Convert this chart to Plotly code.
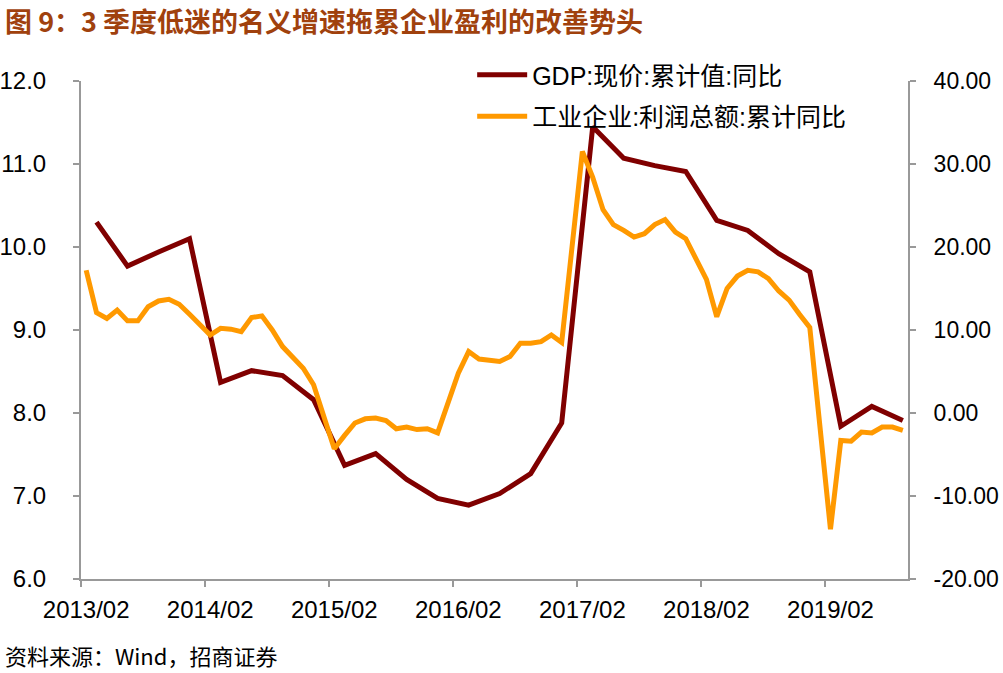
import plotly.graph_objects as go

# ---- data ----
start_year, start_month, n_months = 2013, 2, 80
months = []
y, m = start_year, start_month
for _ in range(n_months):
    months.append(f"{y}/{m:02d}")
    m += 1
    if m > 12:
        m = 1
        y += 1

gdp_dates = ["2013/03", "2013/06", "2013/09", "2013/12",
             "2014/03", "2014/06", "2014/09", "2014/12",
             "2015/03", "2015/06", "2015/09", "2015/12",
             "2016/03", "2016/06", "2016/09", "2016/12",
             "2017/03", "2017/06", "2017/09", "2017/12",
             "2018/03", "2018/06", "2018/09", "2018/12",
             "2019/03", "2019/06", "2019/09"]
gdp_values = [10.30, 9.77, 9.94, 10.10,
              8.37, 8.51, 8.45, 8.16,
              7.37, 7.51, 7.20, 6.97,
              6.89, 7.03, 7.27, 7.88,
              11.45, 11.07, 10.98, 10.91,
              10.32, 10.20, 9.92, 9.70,
              7.84, 8.08, 7.91]

profit_dates = ["2013/02", "2013/03", "2013/04", "2013/05", "2013/06", "2013/07", "2013/08", "2013/09", "2013/10", "2013/11", "2013/12",
                "2014/02", "2014/03", "2014/04", "2014/05", "2014/06", "2014/07", "2014/08", "2014/09", "2014/10", "2014/11", "2014/12",
                "2015/02", "2015/03", "2015/04", "2015/05", "2015/06", "2015/07", "2015/08", "2015/09", "2015/10", "2015/11", "2015/12",
                "2016/02", "2016/03", "2016/04", "2016/05", "2016/06", "2016/07", "2016/08", "2016/09", "2016/10", "2016/11", "2016/12",
                "2017/02", "2017/03", "2017/04", "2017/05", "2017/06", "2017/07", "2017/08", "2017/09", "2017/10", "2017/11", "2017/12",
                "2018/02", "2018/03", "2018/04", "2018/05", "2018/06", "2018/07", "2018/08", "2018/09", "2018/10", "2018/11", "2018/12",
                "2019/02", "2019/03", "2019/04", "2019/05", "2019/06", "2019/07", "2019/08", "2019/09"]
profit_values = [17.2, 12.1, 11.4, 12.4, 11.1, 11.1, 12.8, 13.5, 13.7, 13.1, 11.9,
                 9.4, 10.2, 10.1, 9.8, 11.5, 11.7, 10.0, 8.0, 6.7, 5.4, 3.4,
                 -4.3, -2.7, -1.2, -0.7, -0.6, -0.9, -1.9, -1.7, -2.0, -1.9, -2.4,
                 4.8, 7.4, 6.5, 6.4, 6.2, 6.8, 8.4, 8.4, 8.6, 9.4, 8.5,
                 31.5, 28.4, 24.5, 22.7, 22.0, 21.2, 21.6, 22.7, 23.3, 21.8, 21.0,
                 16.1, 11.6, 15.0, 16.5, 17.2, 17.0, 16.2, 14.7, 13.6, 11.9, 10.3,
                 -14.0, -3.3, -3.4, -2.3, -2.4, -1.7, -1.7, -2.1]

tick_labels = ["2013/02", "2014/02", "2015/02", "2016/02", "2017/02", "2018/02", "2019/02"]
left_ticks = [6, 7, 8, 9, 10, 11, 12]
right_ticks = [-20, -10, 0, 10, 20, 30, 40]

title_text = "图 9：3 季度低迷的名义增速拖累企业盈利的改善势头"
source_text = "资料来源：Wind，招商证券"
gdp_name = "GDP:现价:累计值:同比"
profit_name = "工业企业:利润总额:累计同比"

idx = {d: i for i, d in enumerate(months)}

fig = go.Figure()
fig.add_trace(go.Scatter(
    x=[idx[d] for d in gdp_dates], y=gdp_values, name=gdp_name, mode="lines",
    legendgroup="g", line=dict(color="#800000", width=5), yaxis="y"))
fig.add_trace(go.Scatter(
    x=[idx[d] for d in profit_dates], y=profit_values, name=profit_name, mode="lines",
    legendgroup="p", line=dict(color="#FF9900", width=5), yaxis="y2"))

axis_col = "#999999"
tick_font = dict(family="Liberation Sans, Arial", size=24, color="#000000")
tick_font_r = dict(family="Liberation Sans, Arial", size=23, color="#000000")

W, H = 1003, 673
ml, mt = 81, 81
pw, ph = 827, 498
fig.update_layout(
    width=W, height=H,
    margin=dict(l=ml, r=W - ml - pw, t=mt, b=H - mt - ph, autoexpand=False),
    paper_bgcolor="white", plot_bgcolor="white",
    showlegend=True,
    legend=dict(x=0.473, y=1.058, xanchor="left", yanchor="top",
                font=dict(family="Liberation Sans, Noto Sans CJK SC", size=25, color="#000000"),
                bgcolor="rgba(0,0,0,0)", tracegroupgap=6, itemwidth=50),
    xaxis=dict(range=[-0.5, n_months - 0.5], tickmode="array", automargin=False,
               tickvals=[idx[t] for t in tick_labels], ticktext=tick_labels,
               ticks="outside", ticklen=0, ticklabelstandoff=8,
               showgrid=False, zeroline=False,
               showline=True, linecolor=axis_col, linewidth=2,
               tickfont=tick_font,
               minor=dict(tickmode="linear", tick0=-0.5, dtick=12, ticks="outside",
                          ticklen=6, tickwidth=2, tickcolor=axis_col, showgrid=False)),
    yaxis=dict(range=[6, 12], tickmode="array", tickvals=left_ticks, automargin=False,
               ticktext=[f"{v:.1f}" for v in left_ticks], ticks="outside",
               ticklen=6, tickwidth=2, tickcolor=axis_col, ticklabelstandoff=22,
               showline=True, linecolor=axis_col, linewidth=2,
               showgrid=False, zeroline=False, tickfont=tick_font),
    yaxis2=dict(range=[-20, 40], tickmode="array", tickvals=right_ticks, automargin=False,
                ticktext=[f"{v:.2f}" for v in right_ticks], ticks="outside",
                ticklen=6, tickwidth=2, tickcolor=axis_col, ticklabelstandoff=13,
                showline=True, linecolor=axis_col, linewidth=2,
                overlaying="y", side="right", anchor="x",
                showgrid=False, zeroline=False, tickfont=tick_font_r),
)

fig.add_annotation(text=f"<b>{title_text}</b>", xref="paper", yref="paper",
                   x=-(ml - 3) / pw, y=1 + (mt - 20) / ph, xanchor="left", yanchor="middle",
                   showarrow=False,
                   font=dict(family="Noto Sans CJK SC", size=27, color="#A0410D"))
fig.add_annotation(text=source_text, xref="paper", yref="paper",
                   x=-(ml - 3) / pw, y=-(655 - (mt + ph)) / ph, xanchor="left", yanchor="middle",
                   showarrow=False,
                   font=dict(family="Noto Sans CJK SC", size=22, color="#000000"))

fig.write_html("out.html", config={"displayModeBar": False},
               post_script="document.body.style.margin='0px';")
